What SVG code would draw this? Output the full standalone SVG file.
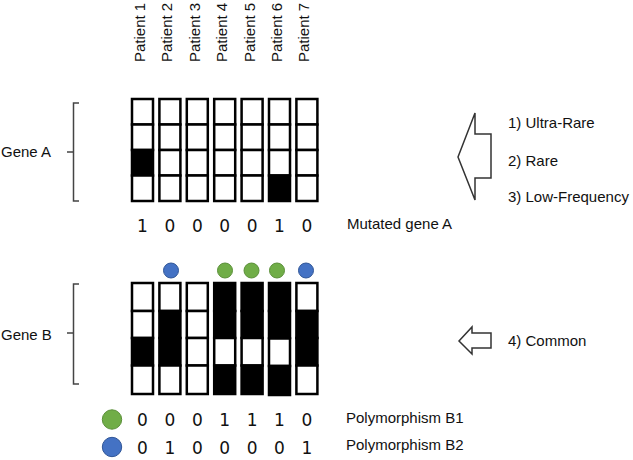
<svg xmlns="http://www.w3.org/2000/svg" width="633" height="460" viewBox="0 0 633 460">
<style>
  .t { font-family: "Liberation Sans", Arial, sans-serif; font-size: 15px; fill: #111; }
  .d { font-family: "DejaVu Sans", Verdana, sans-serif; font-size: 17px; fill: #111; text-anchor: middle; }
  .w { fill: #fff; stroke: #000; stroke-width: 2.5; }
  .b { fill: #000; stroke: #000; stroke-width: 2.5; }
  .br { fill: none; stroke: #444; stroke-width: 1.5; }
  .ar { fill: #fff; stroke: #333; stroke-width: 1.5; stroke-linejoin: miter; }
  .g { fill: #70AD47; stroke: #5a8f38; stroke-width: 1; }
  .bl { fill: #4472C4; stroke: #2f5597; stroke-width: 1; }
</style>
<rect width="633" height="460" fill="#fff"/>

<g id="patients">
  <text class="t" transform="translate(145,62) rotate(-90)">Patient 1</text>
  <text class="t" transform="translate(172.4,62) rotate(-90)">Patient 2</text>
  <text class="t" transform="translate(199.8,62) rotate(-90)">Patient 3</text>
  <text class="t" transform="translate(227.2,62) rotate(-90)">Patient 4</text>
  <text class="t" transform="translate(254.6,62) rotate(-90)">Patient 5</text>
  <text class="t" transform="translate(282,62) rotate(-90)">Patient 6</text>
  <text class="t" transform="translate(309.4,62) rotate(-90)">Patient 7</text>
</g>

<g id="geneA-label">
  <text class="t" x="1" y="157">Gene A</text>
  <path class="br" d="M79,103 H73.5 V201 H79 M73.5,152 H67"/>
</g>

<g id="geneA">
  <g id="geneA-p1">
    <rect class="w" x="132" y="99" width="21" height="25.5"/>
    <rect class="w" x="132" y="124.5" width="21" height="25.5"/>
    <rect class="b" x="132" y="150" width="21" height="25.5"/>
    <rect class="w" x="132" y="175.5" width="21" height="25.5"/>
  </g>
  <g id="geneA-p2">
    <rect class="w" x="159.4" y="99" width="21" height="25.5"/>
    <rect class="w" x="159.4" y="124.5" width="21" height="25.5"/>
    <rect class="w" x="159.4" y="150" width="21" height="25.5"/>
    <rect class="w" x="159.4" y="175.5" width="21" height="25.5"/>
  </g>
  <g id="geneA-p3">
    <rect class="w" x="186.8" y="99" width="21" height="25.5"/>
    <rect class="w" x="186.8" y="124.5" width="21" height="25.5"/>
    <rect class="w" x="186.8" y="150" width="21" height="25.5"/>
    <rect class="w" x="186.8" y="175.5" width="21" height="25.5"/>
  </g>
  <g id="geneA-p4">
    <rect class="w" x="214.2" y="99" width="21" height="25.5"/>
    <rect class="w" x="214.2" y="124.5" width="21" height="25.5"/>
    <rect class="w" x="214.2" y="150" width="21" height="25.5"/>
    <rect class="w" x="214.2" y="175.5" width="21" height="25.5"/>
  </g>
  <g id="geneA-p5">
    <rect class="w" x="241.6" y="99" width="21" height="25.5"/>
    <rect class="w" x="241.6" y="124.5" width="21" height="25.5"/>
    <rect class="w" x="241.6" y="150" width="21" height="25.5"/>
    <rect class="w" x="241.6" y="175.5" width="21" height="25.5"/>
  </g>
  <g id="geneA-p6">
    <rect class="w" x="269" y="99" width="21" height="25.5"/>
    <rect class="w" x="269" y="124.5" width="21" height="25.5"/>
    <rect class="w" x="269" y="150" width="21" height="25.5"/>
    <rect class="b" x="269" y="175.5" width="21" height="25.5"/>
  </g>
  <g id="geneA-p7">
    <rect class="w" x="296.4" y="99" width="21" height="25.5"/>
    <rect class="w" x="296.4" y="124.5" width="21" height="25.5"/>
    <rect class="w" x="296.4" y="150" width="21" height="25.5"/>
    <rect class="w" x="296.4" y="175.5" width="21" height="25.5"/>
  </g>
</g>

<g id="geneA-values">
  <text class="d" x="142.5" y="232">1</text>
  <text class="d" x="169.9" y="232">0</text>
  <text class="d" x="197.3" y="232">0</text>
  <text class="d" x="224.7" y="232">0</text>
  <text class="d" x="252.1" y="232">0</text>
  <text class="d" x="279.5" y="232">1</text>
  <text class="d" x="306.9" y="232">0</text>
  <text class="t" x="347" y="229">Mutated gene A</text>
</g>

<g id="arrowA">
  <polygon class="ar" points="458,157 475,113 475,134 491,134 491,178 475,178 475,200"/>
  <text class="t" x="508" y="128">1) Ultra-Rare</text>
  <text class="t" x="508" y="166">2) Rare</text>
  <text class="t" x="508" y="202">3) Low-Frequency</text>
</g>

<g id="markers">
  <circle class="bl" cx="171" cy="270.5" r="7.5"/>
  <circle class="g" cx="225" cy="270.5" r="7.5"/>
  <circle class="g" cx="251.5" cy="270.5" r="7.5"/>
  <circle class="g" cx="277" cy="270.5" r="7.5"/>
  <circle class="bl" cx="306" cy="270.5" r="7.5"/>
</g>

<g id="geneB-label">
  <text class="t" x="1" y="340">Gene B</text>
  <path class="br" d="M79,284 H73.5 V384 H79 M73.5,333 H67"/>
</g>

<g id="geneB">
  <g id="geneB-p1">
    <rect class="w" x="132" y="283" width="21" height="28"/>
    <rect class="w" x="132" y="311" width="21" height="27"/>
    <rect class="b" x="132" y="338" width="21" height="27.5"/>
    <rect class="w" x="132" y="365.5" width="21" height="28.5"/>
  </g>
  <g id="geneB-p2">
    <rect class="w" x="159.4" y="283" width="21" height="28"/>
    <rect class="b" x="159.4" y="311" width="21" height="27"/>
    <rect class="b" x="159.4" y="338" width="21" height="27.5"/>
    <rect class="w" x="159.4" y="365.5" width="21" height="28.5"/>
  </g>
  <g id="geneB-p3">
    <rect class="w" x="186.8" y="283" width="21" height="28"/>
    <rect class="w" x="186.8" y="311" width="21" height="27"/>
    <rect class="w" x="186.8" y="338" width="21" height="27.5"/>
    <rect class="w" x="186.8" y="365.5" width="21" height="28.5"/>
  </g>
  <g id="geneB-p4">
    <rect class="b" x="214.2" y="283" width="21" height="28"/>
    <rect class="b" x="214.2" y="311" width="21" height="27"/>
    <rect class="w" x="214.2" y="338" width="21" height="27.5"/>
    <rect class="b" x="214.2" y="365.5" width="21" height="28.5"/>
  </g>
  <g id="geneB-p5">
    <rect class="b" x="241.6" y="283" width="21" height="28"/>
    <rect class="b" x="241.6" y="311" width="21" height="27"/>
    <rect class="w" x="241.6" y="338" width="21" height="27.5"/>
    <rect class="b" x="241.6" y="365.5" width="21" height="28.5"/>
  </g>
  <g id="geneB-p6">
    <rect class="b" x="269" y="283" width="21" height="28"/>
    <rect class="b" x="269" y="311" width="21" height="27"/>
    <rect class="w" x="269" y="338.5" width="21" height="27.5"/>
    <rect class="b" x="269" y="366" width="21" height="29"/>
  </g>
  <g id="geneB-p7">
    <rect class="w" x="296.4" y="283" width="21" height="28"/>
    <rect class="b" x="296.4" y="311" width="21" height="27"/>
    <rect class="b" x="296.4" y="338" width="21" height="27.5"/>
    <rect class="w" x="296.4" y="365.5" width="21" height="28.5"/>
  </g>
</g>

<g id="arrowB">
  <polygon class="ar" points="459,341 472,327 472,333 491,333 491,348 472,348 472,354"/>
  <text class="t" x="508" y="346">4) Common</text>
</g>

<g id="geneB-values">
  <circle class="g" cx="112" cy="419.5" r="9.7"/>
  <text class="d" x="142.5" y="426">0</text>
  <text class="d" x="169.9" y="426">0</text>
  <text class="d" x="197.3" y="426">0</text>
  <text class="d" x="224.7" y="426">1</text>
  <text class="d" x="252.1" y="426">1</text>
  <text class="d" x="279.5" y="426">1</text>
  <text class="d" x="306.9" y="426">0</text>
  <text class="t" x="346" y="423">Polymorphism B1</text>

  <circle class="bl" cx="112" cy="447" r="9.7"/>
  <text class="d" x="142.5" y="454">0</text>
  <text class="d" x="169.9" y="454">1</text>
  <text class="d" x="197.3" y="454">0</text>
  <text class="d" x="224.7" y="454">0</text>
  <text class="d" x="252.1" y="454">0</text>
  <text class="d" x="279.5" y="454">0</text>
  <text class="d" x="306.9" y="454">1</text>
  <text class="t" x="346" y="450">Polymorphism B2</text>
</g>
</svg>
